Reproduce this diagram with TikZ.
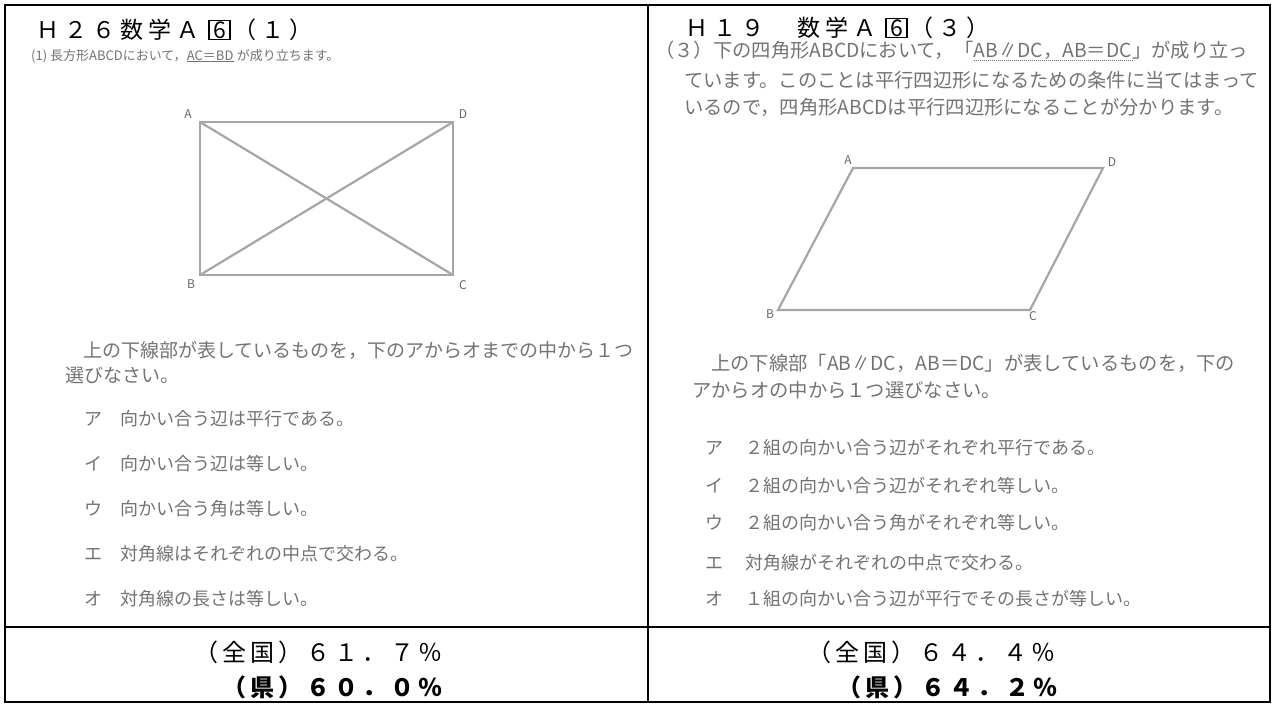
\documentclass[tikz,border=0pt]{standalone}
\usepackage{fontspec}
\setmainfont{Noto Sans CJK JP}
\newcommand\tq[1]{\makebox[28pt][c]{#1}}
\begin{document}
\begin{tikzpicture}[x=1pt,y=-1pt,
  frame/.style={line width=2.2pt,line cap=rect},
  ttl/.style={font=\fontsize{23}{23}\selectfont,inner sep=0pt,anchor=base west},
  box6/.style={draw,line width=1.2pt,font=\fontsize{23}{23}\selectfont,inner sep=0pt,
    minimum width=21pt,minimum height=19pt,anchor=base west},
  gtext/.style={text=black!55,inner sep=0pt,anchor=base west},
  small/.style={gtext,font=\fontsize{13}{13}\selectfont},
  para/.style={gtext,font=\fontsize{19}{19}\selectfont},
  parar/.style={gtext,font=\fontsize{19.3}{19.3}\selectfont},
  opt/.style={gtext,font=\fontsize{18}{18}\selectfont},
  lbl/.style={font=\fontsize{12}{12}\selectfont,text=black!60,inner sep=0pt},
  fig/.style={draw=black!35,line width=2.2pt},
  resA/.style={font=\fontsize{24}{24}\selectfont,inner sep=0pt,anchor=base east},
  resB/.style={font=\fontsize{24}{24}\selectfont\bfseries,inner sep=0pt,anchor=base east}]
\useasboundingbox (0,0) rectangle (1275,704);
\fill[white] (0,0) rectangle (1275,704);
% table frame
\draw[frame] (5,5) rectangle (1270,702);
\draw[frame] (648,5) -- (648,702);
\draw[frame] (5,627) -- (1270,627);

% ---------------- left cell ----------------
\node[ttl] (lt1) at (34,38) {\tq{Ｈ}\tq{２}\tq{６}\tq{数}\tq{学}\tq{Ａ}};
\node[box6] (lt2) at ([xshift=6pt]lt1.base east) {6};
\node[ttl] (lt3) at (lt2.base east) {\tq{（}\tq{１}\tq{）}};

\node[small] (l1a) at (31,60) {(1) 長方形ABCDにおいて，};
\node[small] (l1b) at (l1a.base east) {AC＝BD};
\node[small] (l1c) at (l1b.base east) {\ が成り立ちます。};
\draw[black!55,line width=0.8pt] ([yshift=-1pt]l1b.south west) -- ([yshift=-1pt]l1b.south east);

\coordinate (A) at (200,122);
\coordinate (B) at (200,275);
\coordinate (C) at (453,275);
\coordinate (D) at (453,122);
\draw[fig] (A) -- (B) -- (C) -- (D) -- cycle;
\draw[fig] (A) -- (C);
\draw[fig] (B) -- (D);
\node[lbl] (la) at (188,114) {A};
\node[lbl] (ld) at (463,114) {D};
\node[lbl] (lb) at (191,284) {B};
\node[lbl] (lc) at (463,285) {C};

\node[para] (l2) at (83,357) {上の下線部が表しているものを，下のアからオまでの中から１つ};
\node[para] (l3) at (65,382) {選びなさい。};

\node[opt] (lo1k) at (84,425) {ア};
\node[opt] (lo1) at (120,425) {向かい合う辺は平行である。};
\node[opt] (lo2k) at (84,470) {イ};
\node[opt] (lo2) at (120,470) {向かい合う辺は等しい。};
\node[opt] (lo3k) at (84,515) {ウ};
\node[opt] (lo3) at (120,515) {向かい合う角は等しい。};
\node[opt] (lo4k) at (84,560) {エ};
\node[opt] (lo4) at (120,560) {対角線はそれぞれの中点で交わる。};
\node[opt] (lo5k) at (84,605) {オ};
\node[opt] (lo5) at (120,605) {対角線の長さは等しい。};

\node[resA] (lr1) at (445,661) {\tq{（}\tq{全}\tq{国}\tq{）}\tq{６}\tq{１}\tq{．}\tq{７}\tq{％}};
\node[resB] (lr2) at (445,696) {\tq{（}\tq{県}\tq{）}\tq{６}\tq{０}\tq{．}\tq{０}\tq{％}};

% ---------------- right cell ----------------
\node[ttl] (rt1) at (683,36) {\tq{Ｈ}\tq{１}\tq{９}\tq{　}\tq{数}\tq{学}\tq{Ａ}};
\node[box6] (rt2) at ([xshift=6pt]rt1.base east) {6};
\node[ttl] (rt3) at (rt2.base east) {\tq{（}\tq{３}\tq{）}};

\node[parar] (r1a) at (655,57) {（３）下の四角形ABCDにおいて，「};
\node[parar] (r1b) at (r1a.base east) {AB∥DC，AB＝DC};
\node[parar] (r1c) at (r1b.base east) {」が成り立っ};
\draw[black!55,line width=1pt,densely dotted] ([yshift=-1.5pt]r1b.south west) -- ([yshift=-1.5pt]r1b.south east);
\node[parar] (r2) at (684,87) {ています。このことは平行四辺形になるための条件に当てはまって};
\node[parar] (r3) at (684,114) {いるので，四角形ABCDは平行四辺形になることが分かります。};

\coordinate (P) at (853,168);
\coordinate (Q) at (778,310);
\coordinate (R) at (1030,310);
\coordinate (S) at (1103,168);
\draw[fig] (P) -- (Q) -- (R) -- (S) -- cycle;
\node[lbl] (pa) at (848,160) {A};
\node[lbl] (pd) at (1112,162) {D};
\node[lbl] (pb) at (770,314) {B};
\node[lbl] (pc) at (1033,316) {C};

\node[parar] (r4) at (711,370) {上の下線部「AB∥DC，AB＝DC」が表しているものを，下の};
\node[parar] (r5) at (692,397) {アからオの中から１つ選びなさい。};

\node[opt] (ro1k) at (705,454) {ア};
\node[opt] (ro1) at (745,454) {２組の向かい合う辺がそれぞれ平行である。};
\node[opt] (ro2k) at (705,492) {イ};
\node[opt] (ro2) at (745,492) {２組の向かい合う辺がそれぞれ等しい。};
\node[opt] (ro3k) at (705,529) {ウ};
\node[opt] (ro3) at (745,529) {２組の向かい合う角がそれぞれ等しい。};
\node[opt] (ro4k) at (705,569) {エ};
\node[opt] (ro4) at (745,569) {対角線がそれぞれの中点で交わる。};
\node[opt] (ro5k) at (705,605) {オ};
\node[opt] (ro5) at (745,605) {１組の向かい合う辺が平行でその長さが等しい。};

\node[resA] (rr1) at (1058,661) {\tq{（}\tq{全}\tq{国}\tq{）}\tq{６}\tq{４}\tq{．}\tq{４}\tq{％}};
\node[resB] (rr2) at (1060,696) {\tq{（}\tq{県}\tq{）}\tq{６}\tq{４}\tq{．}\tq{２}\tq{％}};
\end{tikzpicture}
\end{document}
